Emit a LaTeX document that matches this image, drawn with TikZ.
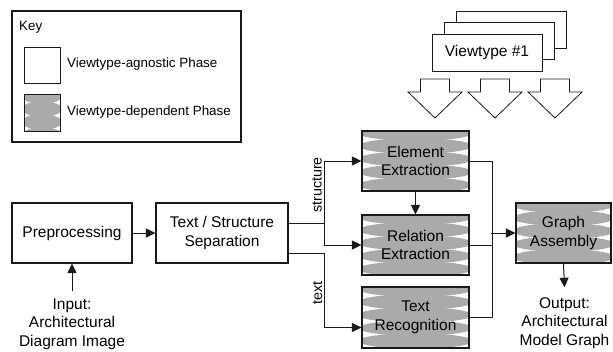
\documentclass[tikz,border=0pt]{standalone}
\usepackage{fontspec}
\setmainfont{Liberation Sans}
\usetikzlibrary{arrows.meta,calc}
\definecolor{gfill}{RGB}{170,170,170}
\definecolor{lc}{RGB}{25,25,25}
\newcommand\mainfs{\fontsize{15.5}{18.5}\selectfont}
\newcommand\keyfs{\fontsize{13.4}{16}\selectfont}
\newcommand\lblfs{\fontsize{14.3}{16}\selectfont}
\tikzset{
  box/.style={draw=lc, line width=1.1pt, fill=white, inner sep=0pt, align=center, font=\mainfs},
  greybox/.style={box, path picture={
      \foreach \i in {0,...,6}{
        \fill[gfill] ($(path picture bounding box.north)+(0,\i*13+2)$) ellipse [x radius=#1, y radius=7.8pt];}
    }},
  conn/.style={draw=lc, line width=1pt},
  arr/.style={conn, -{Triangle[length=9.5pt,width=9pt]}},
  lbl/.style={inner sep=0pt, align=center, font=\mainfs},
  keytext/.style={inner sep=0pt, anchor=west, font=\keyfs},
  blockarrow/.style={draw=lc, line width=0.8pt, fill=white, line join=miter},
}
\begin{document}
\begin{tikzpicture}[x=1pt,y=-1pt]
\useasboundingbox (0,0) rectangle (613,351);

% Key
\node[box, line width=1.2pt, minimum width=229, minimum height=131] (key) at (126.5,76.5) {};
\node[keytext] (keylbl) at (19,27) {Key};
\node[box, line width=1pt, minimum width=36, minimum height=36] (kw) at (42,65) {};
\node[keytext] (kwt) at (67,64) {Viewtype-agnostic Phase};
\node[greybox=20pt, line width=1pt, minimum width=36, minimum height=37] (kg) at (42,112.5) {};
\node[keytext] (kgt) at (67,112) {Viewtype-dependent Phase};

% Viewtype stack
\node[box, line width=1pt, minimum width=110, minimum height=37] (vt3) at (511,29.5) {};
\node[box, line width=1pt, minimum width=110, minimum height=37] (vt2) at (499,41) {};
\node[box, line width=1pt, minimum width=110, minimum height=37] (vt1) at (487,52.5) {Viewtype \#1};

% block arrows
\foreach \x in {435,495,555}{
  \draw[blockarrow] (\x-14.5,79) -- (\x+14.5,79) -- (\x+14.5,92) -- (\x+27,92) -- (\x,118)
     -- (\x-27,92) -- (\x-14.5,92) -- cycle;
}

% main nodes
\node[box, minimum width=120, minimum height=60] (pre) at (72,233) {Preprocessing};
\node[box, minimum width=132, minimum height=60] (sep) at (222,233) {Text / Structure\\Separation};
\node[greybox=57pt, minimum width=107, minimum height=60] (elem) at (415.5,161) {Element\\Extraction};
\node[greybox=57pt, minimum width=107, minimum height=60] (rel) at (415.5,245) {Relation\\Extraction};
\node[greybox=57pt, minimum width=107, minimum height=61] (trec) at (415.5,317.5) {Text\\Recognition};
\node[greybox=51pt, minimum width=95, minimum height=60] (graph) at (563.5,233) {Graph\\Assembly};
\node[lbl] (input) at (72,324) {Input:\\Architectural\\Diagram Image};
\node[lbl] (output) at (564.5,323) {Output:\\Architectural\\Model Graph};

% connectors
\draw[arr] (pre) -- (sep);
\draw[arr] ([yshift=7pt]input.north) -- (pre.south);
\draw[arr] (graph.south) -- ([yshift=10pt]output.north);
\draw[arr] ([yshift=10pt]sep.east) -- ++(36,0) |- (elem.west);
\draw[arr] ([yshift=10pt]sep.east) -- ++(36,0) |- (rel.west);
\draw[arr] ([yshift=-20pt]sep.east) -- ++(36,0) |- ([yshift=-10pt]trec.west);
\draw[arr] (elem) -- (rel);
\draw[conn] (elem.east) -- ++(23,0) |- (trec.east);
\draw[conn] (rel.east) -- ++(23,0);
\draw[arr] ([xshift=-24pt]graph.west) -- (graph.west);

% labels
\node[inner sep=0pt, font=\lblfs, rotate=90] (lstruct) at (317,185) {structure};
\node[inner sep=0pt, font=\lblfs, rotate=90] (ltext) at (317.5,293) {text};
\end{tikzpicture}
\end{document}
